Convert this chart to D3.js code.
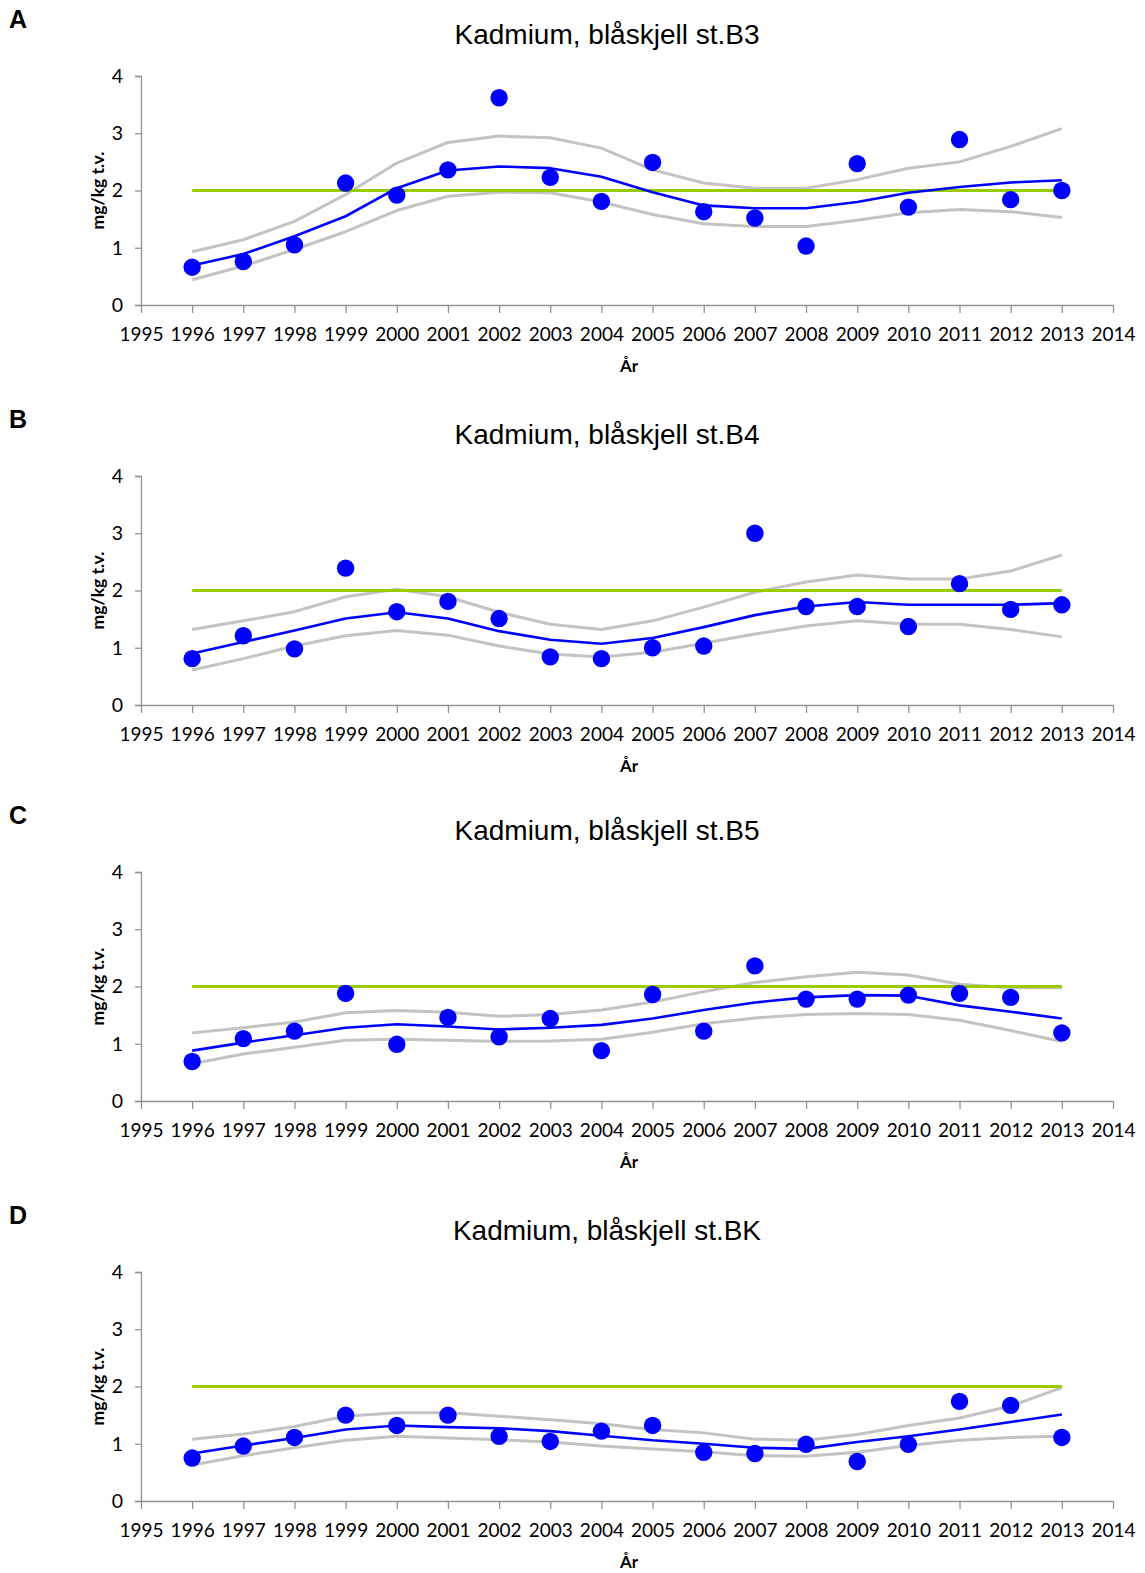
<!DOCTYPE html>
<html><head><meta charset="utf-8">
<script src="https://cdn.jsdelivr.net/npm/d3@7"></script>
<style>
html,body{margin:0;padding:0;background:#fff;}
svg{display:block;}
</style></head>
<body>
<script>
// ---- data ----
const years = [1996,1997,1998,1999,2000,2001,2002,2003,2004,2005,2006,2007,2008,2009,2010,2011,2012,2013];
const xTickYears = [1995,1996,1997,1998,1999,2000,2001,2002,2003,2004,2005,2006,2007,2008,2009,2010,2011,2012,2013,2014];
const yTicks = [0,1,2,3,4];
const limitValue = 2;
const panelLetters = ["A","B","C","D"];
const titles = ["Kadmium, blåskjell st.B3","Kadmium, blåskjell st.B4","Kadmium, blåskjell st.B5","Kadmium, blåskjell st.BK"];
const yLabel = "mg/kg t.v.";
const xLabel = "År";

// Station B3
const pointsB3 = [0.66,0.76,1.05,2.13,1.92,2.36,3.62,2.23,1.81,2.49,1.63,1.52,1.03,2.47,1.71,2.89,1.84,2.00];
const meanB3   = [0.69,0.89,1.20,1.55,2.04,2.35,2.42,2.39,2.24,1.97,1.74,1.69,1.69,1.80,1.96,2.06,2.14,2.18];
const upperB3  = [0.93,1.14,1.46,1.93,2.48,2.84,2.95,2.92,2.74,2.36,2.13,2.04,2.04,2.19,2.39,2.50,2.77,3.08];
const lowerB3  = [0.44,0.68,0.97,1.28,1.65,1.90,1.97,1.96,1.80,1.58,1.42,1.37,1.37,1.48,1.61,1.67,1.63,1.53];
// Station B4
const pointsB4 = [0.81,1.21,0.98,2.39,1.63,1.81,1.51,0.84,0.81,1.00,1.03,3.00,1.72,1.72,1.37,2.12,1.67,1.75];
const meanB4   = [0.90,1.10,1.30,1.51,1.62,1.51,1.29,1.14,1.07,1.17,1.36,1.57,1.72,1.80,1.75,1.75,1.75,1.78];
const upperB4  = [1.32,1.47,1.63,1.89,2.02,1.89,1.62,1.41,1.32,1.47,1.71,1.97,2.15,2.27,2.20,2.20,2.34,2.62];
const lowerB4  = [0.61,0.81,1.03,1.21,1.30,1.22,1.03,0.89,0.84,0.92,1.08,1.24,1.38,1.47,1.41,1.41,1.32,1.19];
// Station B5
const pointsB5 = [0.69,1.09,1.22,1.88,0.99,1.46,1.12,1.44,0.88,1.86,1.22,2.36,1.78,1.78,1.85,1.88,1.81,1.19];
const meanB5   = [0.88,1.02,1.15,1.28,1.34,1.30,1.25,1.28,1.33,1.44,1.59,1.72,1.81,1.85,1.84,1.67,1.56,1.44];
const upperB5  = [1.19,1.28,1.38,1.54,1.58,1.55,1.48,1.51,1.59,1.73,1.91,2.07,2.17,2.25,2.20,2.04,1.98,1.98];
const lowerB5  = [0.65,0.82,0.94,1.06,1.08,1.06,1.04,1.05,1.08,1.20,1.35,1.45,1.51,1.53,1.51,1.41,1.23,1.04];
// Station BK
const pointsBK = [0.75,0.96,1.11,1.50,1.32,1.50,1.13,1.04,1.22,1.32,0.85,0.83,0.99,0.69,0.99,1.74,1.67,1.11];
const meanBK   = [0.83,0.97,1.10,1.25,1.32,1.29,1.27,1.22,1.14,1.06,1.00,0.93,0.91,1.03,1.13,1.25,1.38,1.51];
const upperBK  = [1.08,1.17,1.30,1.48,1.54,1.54,1.48,1.42,1.35,1.25,1.19,1.08,1.06,1.16,1.32,1.45,1.66,1.98];
const lowerBK  = [0.63,0.79,0.93,1.06,1.13,1.10,1.07,1.03,0.96,0.91,0.86,0.79,0.78,0.85,0.97,1.06,1.11,1.13];

const panelPoints = [pointsB3,pointsB4,pointsB5,pointsBK];
const panelMean   = [meanB3,meanB4,meanB5,meanBK];
const panelUpper  = [upperB3,upperB4,upperB5,upperBK];
const panelLower  = [lowerB3,lowerB4,lowerB5,lowerBK];

// ---- layout ----
const W = 1145, H = 1573;
const plotLeft = 141, plotRight = 1113, plotH = 229;
const plotTops = [76, 476, 872, 1272];

const svg = d3.select("body").append("svg").attr("width", W).attr("height", H);

const x = d3.scaleLinear().domain([1995, 2014]).range([plotLeft, plotRight]);

const axisColor = "#929292";
const tickFont = "Lato, 'Open Sans', sans-serif";

panelLetters.forEach((letter, i) => {
  const top = plotTops[i];
  const y = d3.scaleLinear().domain([0, 4]).range([top + plotH, top]);
  const g = svg.append("g");

  // panel letter
  g.append("text").attr("x", 9).attr("y", top - 48)
    .attr("font-family", "'Liberation Sans', Arial, sans-serif")
    .attr("font-weight", "bold").attr("font-size", 25).attr("fill", "#000")
    .text(letter);

  // title
  g.append("text").attr("x", 607).attr("y", top - 32)
    .attr("text-anchor", "middle")
    .attr("font-family", "'Liberation Sans', Arial, sans-serif")
    .attr("font-size", 28).attr("fill", "#000")
    .text(titles[i]);

  // y axis
  const yAxis = d3.axisLeft(y).tickValues(yTicks).tickSize(6).tickPadding(12).tickFormat(d3.format("d"));
  const ya = g.append("g").attr("transform", `translate(${plotLeft},0)`).call(yAxis);
  ya.select(".domain").attr("stroke", axisColor).attr("stroke-width", 1.3);
  ya.selectAll(".tick line").attr("stroke", axisColor).attr("stroke-width", 1.3);
  ya.selectAll(".tick text").attr("font-family", tickFont).attr("font-size", 19.5).attr("fill", "#000");

  // x axis
  const xAxis = d3.axisBottom(x).tickValues(xTickYears).tickSize(8).tickSizeOuter(0).tickPadding(15).tickFormat(d3.format("d"));
  const xa = g.append("g").attr("transform", `translate(0,${top + plotH})`).call(xAxis);
  xa.select(".domain").attr("stroke", axisColor).attr("stroke-width", 1.3);
  xa.selectAll(".tick line").attr("stroke", axisColor).attr("stroke-width", 1.3);
  xa.selectAll(".tick text").attr("font-family", tickFont).attr("font-size", 19).attr("fill", "#000");

  // axis titles
  g.append("text")
    .attr("transform", `translate(104,${top + plotH / 2}) rotate(-90)`)
    .attr("text-anchor", "middle")
    .attr("font-family", tickFont).attr("font-weight", "bold")
    .attr("font-size", 17.5).attr("fill", "#000")
    .text(yLabel);
  g.append("text").attr("x", 629).attr("y", top + plotH + 67)
    .attr("text-anchor", "middle")
    .attr("font-family", tickFont).attr("font-weight", "bold")
    .attr("font-size", 17).attr("fill", "#000")
    .text(xLabel);

  const line = d3.line().x((d, j) => x(years[j])).y(d => y(d));

  // confidence band lines (gray)
  [panelUpper[i], panelLower[i]].forEach(arr => {
    g.append("path").datum(arr).attr("d", line)
      .attr("fill", "none").attr("stroke", "#c3c3c3").attr("stroke-width", 3)
      .attr("stroke-linejoin", "round");
  });

  // limit line (green)
  g.append("path").datum(years.map(() => limitValue)).attr("d", line)
    .attr("fill", "none").attr("stroke", "#99cc00").attr("stroke-width", 3);

  // mean line (blue)
  g.append("path").datum(panelMean[i]).attr("d", line)
    .attr("fill", "none").attr("stroke", "#0000ff").attr("stroke-width", 2.6)
    .attr("stroke-linejoin", "round");

  // points
  g.selectAll("circle.pt").data(panelPoints[i]).enter().append("circle")
    .attr("class", "pt")
    .attr("cx", (d, j) => x(years[j])).attr("cy", d => y(d))
    .attr("r", 8.7).attr("fill", "#0000ff");
});
</script>
</body></html>
